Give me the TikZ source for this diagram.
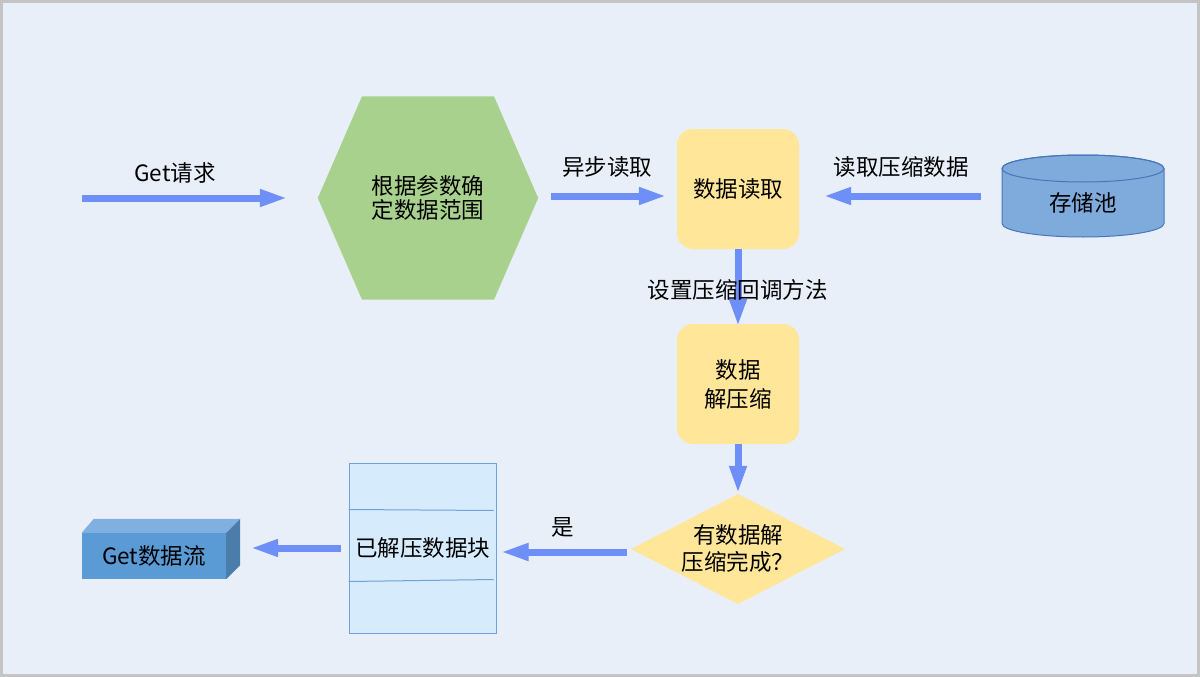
\documentclass[tikz,border=0pt]{standalone}
\usepackage{fontspec}
\setmainfont{Noto Sans CJK SC}
\usetikzlibrary{arrows.meta,shapes.geometric,calc,backgrounds}

\definecolor{bgblue}{RGB}{233,239,249}
\definecolor{framegray}{RGB}{196,196,196}
\definecolor{arrowblue}{RGB}{110,142,248}
\definecolor{hexgreen}{RGB}{169,209,142}
\definecolor{boxyellow}{RGB}{255,230,153}
\definecolor{poolblue}{RGB}{126,170,220}
\definecolor{pooledge}{RGB}{70,120,185}
\definecolor{blockfill}{RGB}{214,235,251}
\definecolor{blockedge}{RGB}{111,161,218}
\definecolor{streamfront}{RGB}{91,155,213}
\definecolor{streamtop}{RGB}{127,176,224}
\definecolor{streamside}{RGB}{74,125,170}

\begin{document}
\begin{tikzpicture}[x=1pt,y=-1pt]
    \tikzstyle{every node}=[font=\fontsize{22.5}{25}\selectfont, text=black]
    \tikzstyle{flow}=[draw=arrowblue, line width=7pt, -{Triangle[length=28pt,width=16pt]}]
    \tikzstyle{stepbox}=[rectangle, rounded corners=16pt, fill=boxyellow, minimum width=122pt, minimum height=120pt, align=center]
    \tikzstyle{hexbox}=[minimum width=220pt, minimum height=203pt, align=center, font=\fontsize{22.5}{23.5}\selectfont]
    \tikzstyle{decision}=[diamond, aspect=1.95, fill=boxyellow, minimum width=214pt, minimum height=110pt, inner sep=0pt, align=center, font=\fontsize{22.5}{27}\selectfont]
    \tikzstyle{poolbox}=[minimum width=162pt, minimum height=82pt]
    \tikzstyle{blockbox}=[draw=blockedge, fill=blockfill, line width=1pt, minimum width=147pt, minimum height=170pt]
    \tikzstyle{streambox}=[fill=streamfront, minimum width=144pt, minimum height=46pt, inner sep=0pt]

    \useasboundingbox (0,0) rectangle (1200,677);

    % nodes
    \node[hexbox] (hex) at (428,198) {根据参数确\\定数据范围};
    \node[stepbox] (read) at (738,189) {数据读取};
    \node[stepbox, font=\fontsize{22.5}{29}\selectfont] (unzip) at (738,384) {数据\\解压缩};
    \node[decision] (decide) at (738,549) {有数据解\\压缩完成？};
    \node[poolbox] (pool) at (1083,203) {存储池};
    \node[blockbox] (block) at (422.5,548) {已解压数据块};
    \node[streambox] (stream) at (154,556) {Get数据流};

    % shapes behind the texts
    \begin{scope}[on background layer]
        \fill[bgblue] (0,0) rectangle (1200,677);
        \draw[framegray, line width=3pt] (1.5,1.5) rectangle (1198.5,675.5);
        \fill[hexgreen] (hex.west) -- ($(hex.north)+(-66,0)$) -- ($(hex.north)+(66,0)$)
            -- (hex.east) -- ($(hex.south)+(66,0)$) -- ($(hex.south)+(-66,0)$) -- cycle;
        \filldraw[fill=poolblue, draw=pooledge, line width=1pt]
            ($(pool.center)+(-81,-34.5)$) -- ($(pool.center)+(-81,20.5)$)
            arc[start angle=180, end angle=360, x radius=81pt, y radius=13.5pt]
            -- ($(pool.center)+(81,-34.5)$)
            arc[start angle=0, end angle=180, x radius=81pt, y radius=13.5pt] -- cycle;
        \draw[pooledge, line width=1pt] ($(pool.center)+(0,-34.5)$) ellipse[x radius=81pt, y radius=13.5pt];
    \end{scope}

    % block rows and 3d faces
    \draw[blockedge, line width=1pt] ($(block.north west)+(0,47)$) -- ($(block.north east)+(-3,48)$);
    \draw[blockedge, line width=1pt] ($(block.south west)+(0,-52)$) -- ($(block.south east)+(-3,-54)$);
    \fill[streamtop] (stream.north west) -- ++(12,-14) -- ($(stream.north east)+(14,-14)$) -- (stream.north east) -- cycle;
    \fill[streamside] (stream.north east) -- ++(14,-14) -- ($(stream.south east)+(14,-14)$) -- (stream.south east) -- cycle;

    % connectors
    \coordinate (start) at (82,198);
    \draw[flow] (start) -- ($(hex.west)+(-30,0)$);
    \draw[flow] ($(hex.east)+(13,-2)$) -- ($(read.west)+(-10,7)$);
    \draw[flow] ($(pool.west)+(-21,-7)$) -- ($(read.east)+(24,7)$);
    \draw[flow] (read.south) -- ($(unzip.north)+(0,3)$);
    \draw[flow] (unzip.south) -- (decide.north);
    \draw[flow] ($(decide.west)+(-4,3)$) -- ($(block.east)+(4,4)$);
    \draw[flow] ($(block.west)+(-8,0)$) -- ($(stream.east)+(24,-8)$);

    % labels
    \node (lblget) at (175,173) {Get请求};
    \node (lblasync) at (607,167) {异步读取};
    \node (lblfetch) at (901,167) {读取压缩数据};
    \node (lblcb) at (737.5,290) {设置压缩回调方法};
    \node (lblyes) at (563,527) {是};
\end{tikzpicture}
\end{document}
